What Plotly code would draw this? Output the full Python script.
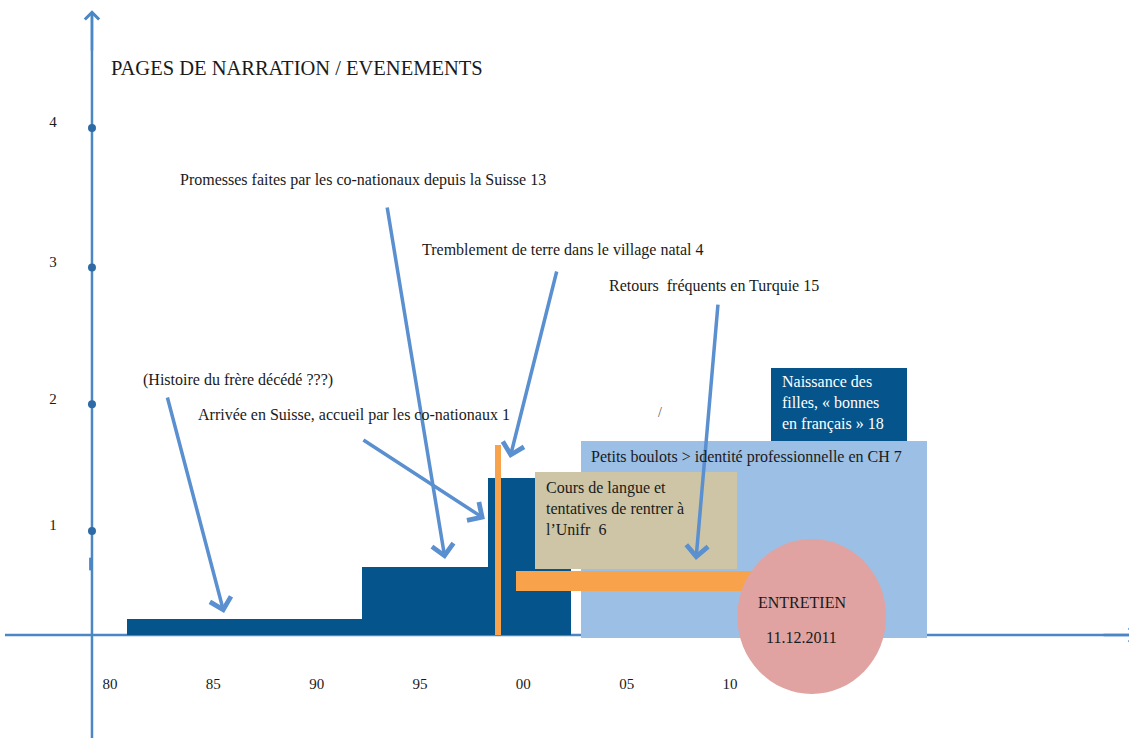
import plotly.graph_objects as go

# Timeline years (x) and narration pages (y)
year_ticks = [1980, 1985, 1990, 1995, 2000, 2005, 2010]
year_labels = ["80", "85", "90", "95", "00", "05", "10"]
page_ticks = [0.82, 1.82, 2.9, 4.0]
page_labels = ["1", "2", "3", "4"]

# Narration blocks: start year, end year, bottom, top
block_names = ["frere", "arrivee", "tremblement", "petits_boulots", "naissance", "cours", "retours", "seisme"]
block_start = [1980.8, 1992.2, 1998.3, 2002.8, 2012.0, 2000.55, 1999.65, 1998.63]
block_end = [1992.2, 1998.4, 2002.3, 2019.55, 2018.55, 2010.35, 2011.45, 1998.9]
block_bottom = [0.0, 0.0, 0.0, -0.02, 1.53, 0.52, 0.35, 0.0]
block_top = [0.13, 0.54, 1.24, 1.53, 2.11, 1.29, 0.505, 1.5]
block_colors = ["#05548b", "#05548b", "#05548b", "#9cbfe5", "#05548b", "#cdc5a6", "#f8a34b", "#f8a34b"]

# Interview date circle
entretien_x = [2010.35, 2017.55]
entretien_y = [-0.465, 0.757]

# Event arrows: (tail x, tail y, head x, head y)
arrows = [
    (1982.76, 1.886, 1985.52, 0.174),
    (1992.19, 1.546, 1998.14, 0.915),
    (1993.40, 3.385, 1996.21, 0.600),
    (2001.63, 2.880, 1999.35, 1.396),
    (2009.42, 2.619, 2008.35, 0.592),
]

FONT = "Liberation Serif, Times New Roman, serif"
AXIS_BLUE = "#4a87c4"
ARROW_BLUE = "#5a8fd0"

fig = go.Figure()

for i in range(len(block_names)):
    fig.add_trace(go.Bar(
        x=[(block_start[i] + block_end[i]) / 2],
        y=[block_top[i] - block_bottom[i]],
        base=[block_bottom[i]],
        width=[block_end[i] - block_start[i]],
        marker=dict(color=block_colors[i], line=dict(width=0)),
        hoverinfo="skip", showlegend=False))

# dots on the vertical axis
fig.add_trace(go.Scatter(
    x=[1979.13] * len(page_ticks), y=page_ticks, mode="markers",
    marker=dict(color="#2e6aa3", size=8), hoverinfo="skip", showlegend=False))

# tick labels
fig.add_trace(go.Scatter(
    x=year_ticks, y=[-0.394] * len(year_ticks), mode="text", text=year_labels,
    textfont=dict(family=FONT, size=15, color="#1a1a1a"),
    hoverinfo="skip", showlegend=False))
fig.add_trace(go.Scatter(
    x=[1977.24] * len(page_ticks), y=[v + 0.035 for v in page_ticks], mode="text",
    text=page_labels, textfont=dict(family=FONT, size=15, color="#1a1a1a"),
    hoverinfo="skip", showlegend=False))

# axes
fig.add_shape(type="line", x0=1979.13, x1=1979.13, y0=-0.82, y1=4.9,
              line=dict(color=AXIS_BLUE, width=2.5), layer="below")
fig.add_shape(type="line", x0=1974.92, x1=2029.3, y0=0, y1=0,
              line=dict(color=AXIS_BLUE, width=2.5), layer="below")
fig.add_shape(type="line", x0=1979.04, x1=1979.04, y0=0.51, y1=0.61,
              line=dict(color=AXIS_BLUE, width=2))

# interview circle
fig.add_shape(type="circle", x0=entretien_x[0], x1=entretien_x[1],
              y0=entretien_y[0], y1=entretien_y[1],
              fillcolor="#e0a3a1", line=dict(width=0), layer="above")

# axis arrowheads
fig.add_annotation(x=1979.13, y=4.93, ax=1979.13, ay=4.6, axref="x", ayref="y",
                   text="", showarrow=True, arrowhead=4, arrowsize=1.1,
                   arrowwidth=2.5, arrowcolor=AXIS_BLUE)
fig.add_annotation(x=2029.75, y=0, ax=2028.0, ay=0, axref="x", ayref="y",
                   text="", showarrow=True, arrowhead=4, arrowsize=1.1,
                   arrowwidth=2.5, arrowcolor=AXIS_BLUE)

for tx, ty, hx, hy in arrows:
    fig.add_annotation(x=hx, y=hy, ax=tx, ay=ty, axref="x", ayref="y",
                       text="", showarrow=True, arrowhead=4, arrowsize=1.2,
                       arrowwidth=3.5, arrowcolor=ARROW_BLUE)

labels = [
    (1979.95, 4.473, "PAGES DE NARRATION / EVENEMENTS", 20.5, "#1a1a1a"),
    (1983.30, 3.590, "Promesses faites par les co-nationaux depuis la Suisse 13", 16, "#1a1a1a"),
    (1994.98, 3.037, "Tremblement de terre dans le village natal 4", 16, "#1a1a1a"),
    (2004.03, 2.753, "Retours  fréquents en Turquie 15", 16, "#1a1a1a"),
    (1981.49, 2.012, "(Histoire du frère décédé ???)", 16, "#1a1a1a"),
    (1984.15, 1.736, "Arrivée en Suisse, accueil par les co-nationaux 1", 16, "#1a1a1a"),
    (2003.18, 1.407, "Petits boulots > identité professionnelle en CH 7", 16, "#1a1a1a"),
    (2012.42, 1.828, "Naissance des<br>filles, « bonnes<br>en français » 18", 16, "white"),
    (2000.98, 1.002, "Cours de langue et<br>tentatives de rentrer à<br>l’Unifr  6", 16, "#1a1a1a"),
    (2006.40, 1.759, "/", 14, "#555555"),
]
for x, y, txt, size, color in labels:
    fig.add_annotation(x=x, y=y, text=txt, showarrow=False, xanchor="left",
                       yanchor="middle", align="left",
                       font=dict(family=FONT, size=size, color=color))

fig.add_annotation(x=2013.47, y=0.26, text="ENTRETIEN", showarrow=False,
                   font=dict(family=FONT, size=16, color="#1a1a1a"))
fig.add_annotation(x=2013.47, y=-0.016, text="11.12.2011", showarrow=False,
                   font=dict(family=FONT, size=16, color="#1a1a1a"))

fig.update_layout(
    width=1129, height=738,
    margin=dict(l=0, r=0, t=0, b=0),
    paper_bgcolor="white", plot_bgcolor="white",
    barmode="overlay", bargap=0,
    xaxis=dict(range=[1974.68, 2029.30], visible=False, fixedrange=True),
    yaxis=dict(range=[-0.8126, 5.0099], visible=False, fixedrange=True),
)

# drop the default page margin so the figure sits at the window corner
fig.write_html("out.html", config={"displayModeBar": False},
               post_script="document.body.style.margin='0';")
